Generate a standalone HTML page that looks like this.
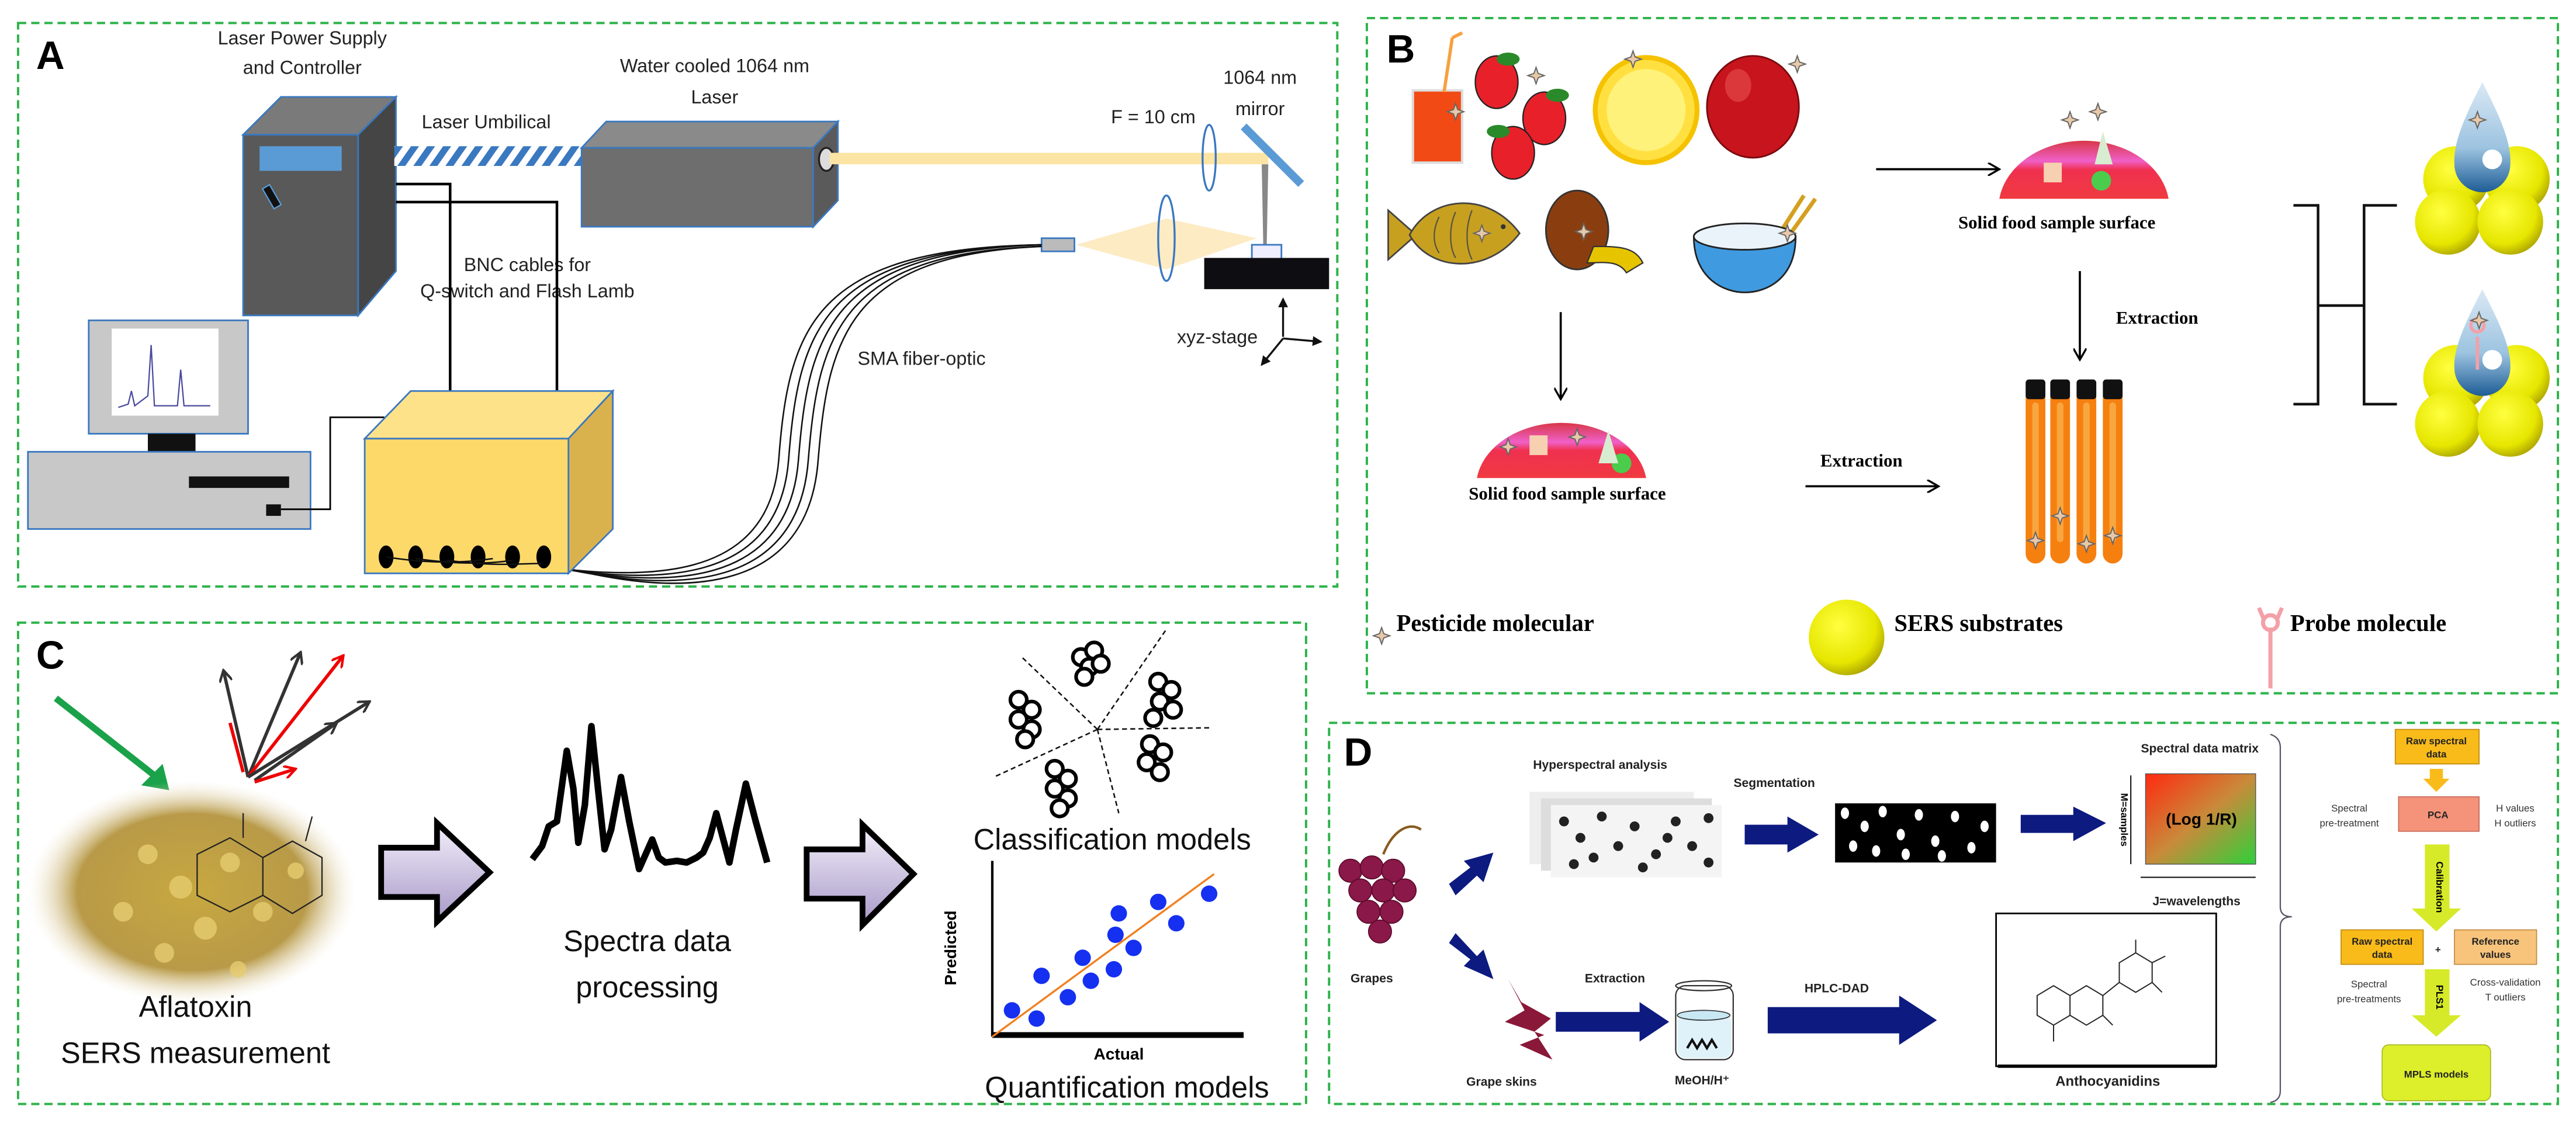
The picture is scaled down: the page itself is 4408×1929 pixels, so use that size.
<!DOCTYPE html>
<html><head><meta charset="utf-8"><style>
html,body{margin:0;padding:0;background:#fff;}
svg{display:block;}
.s{font-family:"Liberation Sans",sans-serif;}
.n{font-family:"Liberation Sans Narrow","Liberation Sans",sans-serif;}
.r{font-family:"Liberation Serif",serif;font-weight:bold;}
</style></head><body>
<svg width="4408" height="1929" viewBox="0 0 1568 686" preserveAspectRatio="none" xmlns="http://www.w3.org/2000/svg">
<defs>
<linearGradient id="lav" x1="0" y1="0" x2="0" y2="1"><stop offset="0" stop-color="#f4f0fa"/><stop offset="1" stop-color="#a798c8"/></linearGradient>
<linearGradient id="mat" x1="0" y1="0" x2="1" y2="1"><stop offset="0" stop-color="#ff2a10"/><stop offset="0.5" stop-color="#c98a3a"/><stop offset="1" stop-color="#2ed03a"/></linearGradient>
<radialGradient id="sph" cx="0.4" cy="0.35" r="0.7"><stop offset="0" stop-color="#ffff40"/><stop offset="0.7" stop-color="#e6e600"/><stop offset="1" stop-color="#a8a000"/></radialGradient>
<linearGradient id="drop" x1="0" y1="0" x2="0" y2="1"><stop offset="0" stop-color="#dbe9f5"/><stop offset="0.6" stop-color="#9cc3e0"/><stop offset="1" stop-color="#1d5d96"/></linearGradient>
<linearGradient id="dome" x1="0" y1="0" x2="0" y2="1"><stop offset="0" stop-color="#d83848"/><stop offset="0.35" stop-color="#f060c8"/><stop offset="0.5" stop-color="#f03050"/><stop offset="1" stop-color="#f03a40"/></linearGradient>
<radialGradient id="afl" cx="0.5" cy="0.5" r="0.5"><stop offset="0" stop-color="#c8a840"/><stop offset="0.7" stop-color="#b89a48"/><stop offset="1" stop-color="#f4ecd8" stop-opacity="0"/></radialGradient>
<pattern id="hatch" width="8" height="8" patternUnits="userSpaceOnUse" patternTransform="rotate(35)"><rect width="8" height="8" fill="#fff"/><rect width="4" height="8" fill="#3a78c0"/></pattern>
<marker id="ah" markerWidth="8" markerHeight="8" refX="7" refY="4" orient="auto" markerUnits="userSpaceOnUse"><path d="M0,0 L7,4 L0,8" fill="none" stroke="#000" stroke-width="1.2"/></marker>
<marker id="ag" markerWidth="8" markerHeight="8" refX="7" refY="4" orient="auto" markerUnits="userSpaceOnUse"><path d="M0,0 L7,4 L0,8" fill="none" stroke="#333" stroke-width="1.5"/></marker>
<marker id="ar" markerWidth="8" markerHeight="8" refX="7" refY="4" orient="auto" markerUnits="userSpaceOnUse"><path d="M0,0 L7,4 L0,8" fill="none" stroke="#e00" stroke-width="1.5"/></marker>
<marker id="ad" markerWidth="6" markerHeight="6" refX="5" refY="3" orient="auto" markerUnits="userSpaceOnUse"><path d="M0,0 L6,3 L0,6 Z" fill="#111"/></marker>
<g id="star"><path d="M0,-5 L1.3,-1.3 L5,0 L1.3,1.3 L0,5 L-1.3,1.3 L-5,0 L-1.3,-1.3 Z" fill="#e8c8a8" stroke="#666" stroke-width="0.7"/></g>
</defs>

<g fill="none" stroke="#2db34a" stroke-width="1.4" stroke-dasharray="5 3">
<rect x="11" y="14" width="803" height="343"/>
<rect x="832" y="11" width="725" height="411"/>
<rect x="11" y="379" width="784" height="293"/>
<rect x="809" y="440" width="748" height="232"/>
</g>

<!-- Panel A -->
<text x="22" y="42" class="s" font-size="24" font-weight="bold">A</text>
<g class="n" font-size="11.5" text-anchor="middle" fill="#222">
<text x="184" y="27">Laser Power Supply</text>
<text x="184" y="45">and Controller</text>
<text x="435" y="44">Water cooled 1064 nm</text>
<text x="435" y="63">Laser</text>
<text x="296" y="78">Laser Umbilical</text>
<text x="767" y="51">1064 nm</text>
<text x="767" y="70">mirror</text>
<text x="702" y="75">F = 10 cm</text>
<text x="321" y="165">BNC cables for</text>
<text x="321" y="181">Q-switch and Flash Lamb</text>
<text x="561" y="222">SMA fiber-optic</text>
<text x="741" y="209">xyz-stage</text>
<text x="64" y="306">Computer</text>
<text x="282" y="291" font-size="12.5">Spectrometer</text>
<text x="282" y="308" font-size="12.5">186-887 nm</text>
</g>
<polygon points="148,82 171,59 241,59 218,82" fill="#7a7a7a" stroke="#3a78c0" stroke-width="1"/>
<rect x="148" y="82" width="70" height="110" fill="#595959" stroke="#3a78c0" stroke-width="1"/>
<polygon points="218,82 241,59 241,165 218,192" fill="#454545" stroke="#3a78c0" stroke-width="1"/>
<rect x="158" y="89" width="50" height="15" fill="#5b9bd5"/>
<rect x="163" y="113" width="5" height="14" fill="#111" stroke="#5b9bd5" stroke-width="0.8" transform="rotate(-30 165 120)"/>
<rect x="240" y="89" width="114" height="12" fill="url(#hatch)"/>
<polygon points="354,90 369,74 510,74 495,90" fill="#8a8a8a" stroke="#3a78c0" stroke-width="1"/>
<rect x="354" y="90" width="141" height="48" fill="#6e6e6e" stroke="#3a78c0" stroke-width="1"/>
<polygon points="495,90 510,74 510,122 495,138" fill="#5a5a5a" stroke="#3a78c0" stroke-width="1"/>
<ellipse cx="503" cy="97" rx="4.5" ry="7" fill="#ddd" stroke="#222" stroke-width="1.2"/>
<rect x="505" y="93" width="267" height="7" fill="#fbe4a4"/>
<ellipse cx="736" cy="96" rx="4" ry="20" fill="none" stroke="#3a78c0" stroke-width="1.2"/>
<line x1="757" y1="77" x2="792" y2="112" stroke="#5b9bd5" stroke-width="5"/>
<polygon points="768,100 772,100 771,152 769,152" fill="#888"/>
<polygon points="655,149 710,133 765,145 710,164" fill="#fdebc4"/>
<ellipse cx="710" cy="145" rx="5" ry="26" fill="none" stroke="#3a78c0" stroke-width="1.2"/>
<rect x="634" y="145" width="20" height="8" fill="#bbb" stroke="#3a78c0" stroke-width="1"/>
<rect x="762" y="149" width="18" height="9" fill="#eef" stroke="#3a78c0" stroke-width="1"/>
<rect x="733" y="157" width="76" height="19" fill="#0d0d12"/>
<g stroke="#111" stroke-width="1.2"><line x1="781" y1="205" x2="781" y2="182" marker-end="url(#ad)"/><line x1="781" y1="206" x2="804" y2="208" marker-end="url(#ad)"/><line x1="781" y1="206" x2="768" y2="222" marker-end="url(#ad)"/></g>
<polyline points="241,112 274,112 274,238" fill="none" stroke="#000" stroke-width="1.6"/>
<polyline points="241,123 339,123 339,238" fill="none" stroke="#000" stroke-width="1.6"/>
<g fill="none" stroke="#111" stroke-width="0.9">
<path d="M300,340 C400,358 468,352 474,280 C480,200 495,151 634,149"/>
<path d="M312,341 C405,360 474,354 480,280 C486,202 500,152 634,149"/>
<path d="M322,342 C410,362 480,356 486,280 C492,204 505,153 634,149"/>
<path d="M330,343 C415,364 486,358 492,280 C498,206 510,154 634,150"/>
<path d="M338,344 C420,366 492,360 498,280 C504,208 515,155 634,150"/>
</g>
<rect x="54" y="195" width="97" height="69" fill="#c8c8c8" stroke="#3a78c0" stroke-width="1"/>
<rect x="68" y="200" width="65" height="53" fill="#fff"/>
<polyline points="72,248 78,246 80,238 82,247 90,241 92,210 94,247 108,247 110,225 112,247 128,247" fill="none" stroke="#4a4aa0" stroke-width="0.8"/>
<rect x="90" y="264" width="29" height="11" fill="#111"/>
<rect x="17" y="275" width="172" height="47" fill="#c8c8c8" stroke="#3a78c0" stroke-width="1"/>
<rect x="115" y="290" width="61" height="7" fill="#111"/>
<rect x="162" y="307" width="9" height="7" fill="#111"/>
<polyline points="171,310 201,310 201,254 234,254" fill="none" stroke="#000" stroke-width="1"/>
<polygon points="222,267 250,238 373,238 346,267" fill="#fde28a" stroke="#3a78c0" stroke-width="1"/>
<polygon points="346,267 373,238 373,322 346,349" fill="#d9b24e" stroke="#3a78c0" stroke-width="1"/>
<rect x="222" y="267" width="124" height="82" fill="#fdd96a" stroke="#3a78c0" stroke-width="1"/>
<g fill="#000"><ellipse cx="235" cy="339" rx="4.5" ry="7"/><ellipse cx="253" cy="339" rx="4.5" ry="7"/><ellipse cx="272" cy="339" rx="4.5" ry="7"/><ellipse cx="291" cy="339" rx="4.5" ry="7"/><ellipse cx="312" cy="339" rx="4.5" ry="7"/><ellipse cx="331" cy="339" rx="4.5" ry="7"/></g>
<g fill="none" stroke="#111" stroke-width="0.9"><path d="M235,339 C260,343 280,343 300,340"/><path d="M253,340 C280,344 300,343 312,341"/><path d="M272,341 C300,345 315,343 330,343"/></g>

<!-- Panel B -->
<text x="844" y="38" class="s" font-size="24" font-weight="bold">B</text>
<rect x="860" y="55" width="30" height="44" fill="#f24a14" stroke="#ddd" stroke-width="1.5"/>
<line x1="879" y1="56" x2="884" y2="23" stroke="#f7a040" stroke-width="2"/>
<line x1="884" y1="23" x2="890" y2="20" stroke="#f7a040" stroke-width="2"/>
<g fill="#e8202a" stroke="#222" stroke-width="0.8">
<ellipse cx="911" cy="50" rx="13" ry="16"/><ellipse cx="940" cy="72" rx="13" ry="16"/><ellipse cx="921" cy="93" rx="13" ry="16"/></g>
<g fill="#2a8a2a"><ellipse cx="918" cy="36" rx="7" ry="4"/><ellipse cx="948" cy="58" rx="7" ry="4"/><ellipse cx="912" cy="80" rx="7" ry="4"/></g>
<ellipse cx="1002" cy="67" rx="31" ry="32" fill="#ffe040" stroke="#f5c200" stroke-width="3"/>
<ellipse cx="1002" cy="67" rx="24" ry="25" fill="#fff27a"/>
<ellipse cx="1067" cy="65" rx="28" ry="31" fill="#c8141c" stroke="#7a0a10" stroke-width="1"/>
<ellipse cx="1058" cy="52" rx="8" ry="10" fill="#e85050" opacity="0.6"/>
<!-- fish -->
<path d="M845,128 L862,143 L845,158 Z" fill="#c8a020" stroke="#444" stroke-width="1"/>
<path d="M858,143 C870,120 905,115 925,142 C905,168 870,165 858,143 Z" fill="#c8a020" stroke="#444" stroke-width="1"/>
<circle cx="915" cy="138" r="1.5" fill="#333"/>
<g fill="none" stroke="#554" stroke-width="0.8"><path d="M876,132 C872,140 872,148 876,154"/><path d="M886,129 C882,138 882,150 886,157"/><path d="M896,128 C892,138 892,150 896,158"/></g>
<ellipse cx="960" cy="140" rx="19" ry="24" fill="#8a3e10" stroke="#333" stroke-width="1"/>
<path d="M970,150 C985,150 995,150 1000,160 L990,166 C985,158 975,160 966,160 Z" fill="#e6c400" stroke="#333" stroke-width="0.8"/>
<line x1="1075" y1="155" x2="1098" y2="119" stroke="#d4a020" stroke-width="2.5"/>
<line x1="1080" y1="156" x2="1105" y2="121" stroke="#d4a020" stroke-width="2.5"/>
<path d="M1031,144 C1031,170 1050,178 1062,178 C1075,178 1093,170 1093,144 Z" fill="#3f9ae0" stroke="#222" stroke-width="1"/>
<ellipse cx="1062" cy="144" rx="31" ry="8" fill="#eaf2fa" stroke="#222" stroke-width="1"/>
<g><use href="#star" x="886" y="68"/><use href="#star" x="935" y="46"/><use href="#star" x="994" y="36"/><use href="#star" x="1094" y="39"/><use href="#star" x="902" y="142"/><use href="#star" x="964" y="141"/><use href="#star" x="1088" y="142"/></g>
<g stroke="#000" stroke-width="1.3" fill="none">
<line x1="1142" y1="103" x2="1217" y2="103" marker-end="url(#ah)"/>
<line x1="1266" y1="165" x2="1266" y2="219" marker-end="url(#ah)"/>
<line x1="950" y1="190" x2="950" y2="243" marker-end="url(#ah)"/>
<line x1="1099" y1="296" x2="1180" y2="296" marker-end="url(#ah)"/>
</g>
<path d="M1217,121 A52,41 0 0 1 1320,121 Z" fill="url(#dome)"/>
<rect x="1244" y="99" width="11" height="12" fill="#f6d0b0"/>
<circle cx="1279" cy="110" r="6" fill="#4ccc4c"/>
<polygon points="1275,100 1280,80 1286,100" fill="#d8ecd0"/>
<use href="#star" x="1260" y="73"/><use href="#star" x="1277" y="68"/>
<path d="M899,291 A52,39 0 0 1 1002,291 Z" fill="url(#dome)"/>
<rect x="931" y="265" width="11" height="12" fill="#f6d0b0"/>
<circle cx="987" cy="282" r="6" fill="#4ccc4c"/>
<polygon points="973,282 979,262 985,282" fill="#d8ecd0"/>
<use href="#star" x="918" y="272"/><use href="#star" x="960" y="266"/>
<g class="r" font-size="11" text-anchor="middle"><text x="1252" y="139">Solid food sample surface</text><text x="954" y="304">Solid food sample surface</text></g>
<g class="r" font-size="11"><text x="1288" y="197">Extraction</text><text x="1108" y="284">Extraction</text></g>
<g><rect x="1233" y="236" width="12" height="107" rx="6" fill="#f58010"/><rect x="1237" y="245" width="4" height="85" rx="2" fill="#f8a640"/><rect x="1233" y="231" width="12" height="12" rx="2" fill="#111"/>
<rect x="1248" y="236" width="12" height="107" rx="6" fill="#f58010"/><rect x="1252" y="245" width="4" height="85" rx="2" fill="#f8a640"/><rect x="1248" y="231" width="12" height="12" rx="2" fill="#111"/>
<rect x="1264" y="236" width="12" height="107" rx="6" fill="#f58010"/><rect x="1268" y="245" width="4" height="85" rx="2" fill="#f8a640"/><rect x="1264" y="231" width="12" height="12" rx="2" fill="#111"/>
<rect x="1280" y="236" width="12" height="107" rx="6" fill="#f58010"/><rect x="1284" y="245" width="4" height="85" rx="2" fill="#f8a640"/><rect x="1280" y="231" width="12" height="12" rx="2" fill="#111"/></g>
<use href="#star" x="1239" y="329"/><use href="#star" x="1254" y="314"/><use href="#star" x="1270" y="331"/><use href="#star" x="1286" y="326"/>
<!-- H bracket -->
<path d="M1396,125 L1411,125 L1411,246 L1396,246 M1411,186 L1439,186 M1459,125 L1439,125 L1439,246 L1459,246" fill="none" stroke="#111" stroke-width="1.6"/>
<g><circle cx="1495" cy="109" r="20" fill="url(#sph)"/><circle cx="1532" cy="109" r="20" fill="url(#sph)"/><circle cx="1490" cy="135" r="20" fill="url(#sph)"/><circle cx="1528" cy="135" r="20" fill="url(#sph)"/>
<path d="M1511,50 C1503,66 1493,85 1494,100 A17,17 0 0 0 1528,100 C1529,85 1519,66 1511,50 Z" fill="url(#drop)"/>
<circle cx="1517" cy="97" r="6" fill="#fff"/><use href="#star" x="1508" y="73"/>
<circle cx="1495" cy="230" r="20" fill="url(#sph)"/><circle cx="1532" cy="230" r="20" fill="url(#sph)"/><circle cx="1490" cy="258" r="20" fill="url(#sph)"/><circle cx="1528" cy="258" r="20" fill="url(#sph)"/>
<path d="M1511,176 C1503,192 1493,211 1494,224 A17,17 0 0 0 1528,224 C1529,211 1519,192 1511,176 Z" fill="url(#drop)"/>
<circle cx="1517" cy="219" r="6" fill="#fff"/>
<path d="M1508,225 L1508,205 M1504,198 A4,4 0 1 0 1512,198 A4,4 0 1 0 1504,198" fill="none" stroke="#f4a0a8" stroke-width="2"/>
<use href="#star" x="1509" y="195"/></g>
<use href="#star" x="841" y="387"/>
<text x="850" y="384" class="r" font-size="14.5" font-weight="normal">Pesticide molecular</text>
<circle cx="1124" cy="388" r="23" fill="url(#sph)"/>
<text x="1153" y="384" class="r" font-size="14.5" font-weight="normal">SERS substrates</text>
<path d="M1382,419 L1382,382 M1375,370 L1378,377 M1389,370 L1386,377" fill="none" stroke="#f4a0a8" stroke-width="2.5"/>
<circle cx="1382" cy="379" r="4.5" fill="none" stroke="#f4a0a8" stroke-width="2.5"/>
<text x="1394" y="384" class="r" font-size="14.5" font-weight="normal">Probe molecule</text>

<!-- Panel C -->
<text x="22" y="407" class="s" font-size="24" font-weight="bold">C</text>
<line x1="34" y1="425" x2="94" y2="472" stroke="#1aa24a" stroke-width="4"/>
<polygon points="86,478 103,481 99,465" fill="#1aa24a"/>
<ellipse cx="117" cy="543" rx="100" ry="68" fill="url(#afl)"/>
<g fill="#e6cc70" opacity="0.8"><circle cx="90" cy="520" r="6"/><circle cx="110" cy="540" r="7"/><circle cx="140" cy="525" r="6"/><circle cx="75" cy="555" r="6"/><circle cx="125" cy="565" r="7"/><circle cx="160" cy="555" r="6"/><circle cx="100" cy="580" r="6"/><circle cx="145" cy="590" r="5"/><circle cx="180" cy="530" r="5"/></g>
<path d="M120,520 L140,510 L160,522 L160,545 L140,555 L120,545 Z M160,522 L178,512 L196,522 L196,545 L178,556 L160,545 M148,510 L148,495 M186,512 L190,497" fill="none" stroke="#222" stroke-width="0.8"/>
<g stroke-width="2" fill="none">
<line x1="151" y1="473" x2="136" y2="408" stroke="#333" marker-end="url(#ag)"/>
<line x1="151" y1="473" x2="183" y2="397" stroke="#333" marker-end="url(#ag)"/>
<line x1="151" y1="473" x2="209" y2="399" stroke="#e00" marker-end="url(#ar)"/>
<line x1="151" y1="473" x2="225" y2="427" stroke="#333" marker-end="url(#ag)"/>
<line x1="155" y1="475" x2="205" y2="440" stroke="#333" marker-end="url(#ag)"/>
<line x1="155" y1="476" x2="180" y2="468" stroke="#e00" marker-end="url(#ar)"/>
<line x1="148" y1="470" x2="140" y2="440" stroke="#e00"/>
</g>
<g class="n" font-size="18" text-anchor="middle" fill="#111"><text x="119" y="619">Aflatoxin</text><text x="119" y="647">SERS measurement</text>
<text x="394" y="579">Spectra data</text><text x="394" y="607">processing</text>
<text x="677" y="517">Classification models</text><text x="686" y="668">Quantification models</text></g>
<polygon points="232,516 266,516 266,501 298,531 266,561 266,546 232,546" fill="url(#lav)" stroke="#000" stroke-width="3.5"/>
<polygon points="491,517 525,517 525,502 556,532 525,563 525,547 491,547" fill="url(#lav)" stroke="#000" stroke-width="3.5"/>
<polyline points="324,523 330,515 334,503 339,500 345,457 349,480 352,513 356,490 360,442 364,480 368,517 372,505 378,473 383,500 389,529 393,520 397,511 401,522 405,525 412,524 418,525 424,522 428,519 432,510 436,495 440,510 444,525 448,505 454,477 460,500 467,525" fill="none" stroke="#000" stroke-width="4" stroke-linejoin="round"/>
<g fill="none" stroke="#111" stroke-width="0.9" stroke-dasharray="3 2"><line x1="668" y1="444" x2="710" y2="383"/><line x1="668" y1="444" x2="622" y2="400"/><line x1="668" y1="444" x2="737" y2="443"/><line x1="668" y1="444" x2="605" y2="473"/><line x1="668" y1="444" x2="681" y2="495"/></g>
<g fill="#fff" stroke="#000" stroke-width="2.2">
<circle cx="658" cy="400" r="5"/><circle cx="666" cy="396" r="5"/><circle cx="663" cy="406" r="5"/><circle cx="670" cy="404" r="5"/><circle cx="660" cy="412" r="5"/>
<circle cx="705" cy="415" r="5"/><circle cx="713" cy="420" r="5"/><circle cx="706" cy="427" r="5"/><circle cx="714" cy="432" r="5"/><circle cx="702" cy="437" r="5"/>
<circle cx="620" cy="426" r="5"/><circle cx="628" cy="432" r="5"/><circle cx="620" cy="438" r="5"/><circle cx="628" cy="444" r="5"/><circle cx="624" cy="450" r="5"/>
<circle cx="700" cy="453" r="5"/><circle cx="708" cy="458" r="5"/><circle cx="698" cy="464" r="5"/><circle cx="706" cy="470" r="5"/>
<circle cx="642" cy="468" r="5"/><circle cx="650" cy="474" r="5"/><circle cx="642" cy="480" r="5"/><circle cx="650" cy="486" r="5"/><circle cx="645" cy="492" r="5"/></g>
<line x1="604" y1="524" x2="604" y2="631" stroke="#000" stroke-width="1.5"/>
<line x1="604" y1="630" x2="757" y2="630" stroke="#000" stroke-width="3.5"/>
<line x1="604" y1="631" x2="739" y2="532" stroke="#f08020" stroke-width="1.2"/>
<g fill="#1530f0"><circle cx="616" cy="615" r="5"/><circle cx="631" cy="620" r="5"/><circle cx="634" cy="594" r="5"/><circle cx="650" cy="607" r="5"/><circle cx="659" cy="583" r="5"/><circle cx="664" cy="597" r="5"/><circle cx="678" cy="590" r="5"/><circle cx="679" cy="569" r="5"/><circle cx="681" cy="556" r="5"/><circle cx="690" cy="577" r="5"/><circle cx="705" cy="549" r="5"/><circle cx="716" cy="562" r="5"/><circle cx="736" cy="544" r="5"/></g>
<text x="582" y="577" class="n" font-size="10" font-weight="bold" text-anchor="middle" transform="rotate(-90 582 577)">Predicted</text>
<text x="681" y="645" class="n" font-size="10" font-weight="bold" text-anchor="middle">Actual</text>

<!-- Panel D -->
<text x="818" y="466" class="s" font-size="24" font-weight="bold">D</text>
<path d="M842,520 C848,505 858,500 865,505" fill="none" stroke="#8a5a20" stroke-width="1.5"/>
<g fill="#8a1848" stroke="#5a0a2a" stroke-width="0.6"><circle cx="822" cy="530" r="7"/><circle cx="835" cy="528" r="7"/><circle cx="848" cy="530" r="7"/><circle cx="828" cy="542" r="7"/><circle cx="842" cy="542" r="7"/><circle cx="855" cy="542" r="7"/><circle cx="833" cy="555" r="7"/><circle cx="847" cy="555" r="7"/><circle cx="840" cy="567" r="7"/></g>
<g class="n" font-size="7.5" font-weight="bold" text-anchor="middle" fill="#222">
<text x="835" y="598">Grapes</text><text x="974" y="468">Hyperspectral analysis</text><text x="1080" y="479">Segmentation</text>
<text x="1339" y="458">Spectral data matrix</text><text x="1337" y="551">J=wavelengths</text>
<text x="914" y="661">Grape skins</text><text x="983" y="598">Extraction</text><text x="1036" y="660">MeOH/H⁺</text>
<text x="1118" y="604">HPLC-DAD</text><text x="1283" y="661" font-size="8.5">Anthocyanidins</text></g>
<g fill="#0d1a80">
<polygon points="882,538 895,528 891,524 909,519 903,537 899,533 886,545"/>
<polygon points="882,574 895,584 891,588 909,596 903,578 899,582 886,568"/>
<polygon points="1062,502 1088,502 1088,497 1107,508 1088,519 1088,514 1062,514"/>
<polygon points="1230,496 1262,496 1262,491 1282,501 1262,512 1262,507 1230,507"/>
<polygon points="947,616 998,616 998,610 1016,622 998,634 998,628 947,628"/>
<polygon points="1076,613 1156,613 1156,606 1179,621 1156,636 1156,629 1076,629"/>
</g>
<rect x="931" y="482" width="100" height="44" fill="#eee"/>
<rect x="938" y="486" width="104" height="44" fill="#ddd"/>
<rect x="944" y="490" width="104" height="44" fill="#f4f4f4"/>
<g fill="#222"><circle cx="952" cy="500" r="3"/><circle cx="962" cy="510" r="3"/><circle cx="975" cy="497" r="3"/><circle cx="985" cy="515" r="3"/><circle cx="995" cy="503" r="3"/><circle cx="1008" cy="520" r="3"/><circle cx="1020" cy="500" r="3"/><circle cx="1030" cy="515" r="3"/><circle cx="1040" cy="525" r="3"/><circle cx="958" cy="526" r="3"/><circle cx="970" cy="522" r="3"/><circle cx="1000" cy="528" r="3"/><circle cx="1015" cy="510" r="3"/><circle cx="1040" cy="498" r="3"/></g>
<rect x="1117" y="489" width="98" height="36" fill="#000"/>
<g fill="#fff"><ellipse cx="1123" cy="495" rx="2.5" ry="3.5"/><ellipse cx="1135" cy="503" rx="2.5" ry="3.5"/><ellipse cx="1146" cy="494" rx="2.5" ry="3.5"/><ellipse cx="1128" cy="515" rx="2.5" ry="3.5"/><ellipse cx="1157" cy="508" rx="2.5" ry="3.5"/><ellipse cx="1168" cy="496" rx="2.5" ry="3.5"/><ellipse cx="1142" cy="518" rx="2.5" ry="3.5"/><ellipse cx="1178" cy="512" rx="2.5" ry="3.5"/><ellipse cx="1190" cy="497" rx="2.5" ry="3.5"/><ellipse cx="1200" cy="516" rx="2.5" ry="3.5"/><ellipse cx="1160" cy="520" rx="2.5" ry="3.5"/><ellipse cx="1208" cy="503" rx="2.5" ry="3.5"/><ellipse cx="1182" cy="521" rx="2.5" ry="3.5"/></g>
<rect x="1306" y="471" width="67" height="55" fill="url(#mat)" stroke="#555" stroke-width="0.5"/>
<text x="1340" y="502" class="n" font-size="10" font-weight="bold" text-anchor="middle">(Log 1/R)</text>
<line x1="1297" y1="472" x2="1297" y2="526" stroke="#222" stroke-width="0.8"/>
<text x="1291" y="499" class="n" font-size="6" font-weight="bold" text-anchor="middle" transform="rotate(90 1291 499)">M=samples</text>
<line x1="1303" y1="534" x2="1373" y2="534" stroke="#222" stroke-width="0.8"/>
<path d="M1382,447 Q1388,449 1388,455 L1388,552 Q1388,558 1395,558 Q1388,558 1388,564 L1388,664 Q1388,670 1382,671" fill="none" stroke="#556" stroke-width="0.8"/>
<path d="M918,596 L928,615 L916,622 L940,630 L925,636 L945,645 L934,628 L944,620 L926,610 Z" fill="#8a1838"/>
<rect x="1020" y="600" width="35" height="45" rx="6" fill="#fff" stroke="#333" stroke-width="0.8"/>
<ellipse cx="1037" cy="600" rx="17" ry="3" fill="none" stroke="#333" stroke-width="0.8"/>
<rect x="1021" y="618" width="33" height="26" rx="5" fill="#dff2fa"/>
<ellipse cx="1037" cy="618" rx="16" ry="3" fill="#c8e8f4" stroke="#333" stroke-width="0.6"/>
<path d="M1027,638 L1030,633 L1033,638 L1036,633 L1039,638 L1042,633 L1045,638" stroke="#111" stroke-width="1.5" fill="none"/>
<rect x="1215" y="556" width="134" height="93" fill="#fff" stroke="#000" stroke-width="1"/>
<line x1="1216" y1="649" x2="1349" y2="649" stroke="#000" stroke-width="2"/>
<path d="M1240,606 L1250,600 L1260,606 L1260,618 L1250,624 L1240,618 Z M1260,606 L1270,600 L1280,606 L1280,618 L1270,624 L1260,618 M1280,606 L1290,598 L1290,586 L1300,580 L1310,586 L1310,598 L1300,604 L1290,598 M1250,624 L1250,634 M1280,618 L1286,624 M1300,580 L1300,572 M1310,586 L1318,582 M1310,598 L1316,604" fill="none" stroke="#222" stroke-width="0.7"/>
<rect x="1458" y="444" width="51" height="21" fill="#f9bb1a" stroke="#c08a10" stroke-width="0.6"/>
<polygon points="1479,468 1487,468 1487,474 1491,474 1483,482 1475,474 1479,474" fill="#f9bb1a"/>
<rect x="1460" y="485" width="49" height="21" fill="#f4937a" stroke="#c86a5a" stroke-width="0.6"/>
<polygon points="1476,514 1491,514 1491,553 1498,553 1483,567 1468,553 1476,553" fill="#d6ea2a"/>
<rect x="1425" y="566" width="50" height="21" fill="#f9bb1a" stroke="#c08a10" stroke-width="0.6"/>
<rect x="1494" y="566" width="50" height="21" fill="#f8c47c" stroke="#c08a40" stroke-width="0.6"/>
<polygon points="1476,590 1491,590 1491,618 1498,618 1483,631 1468,618 1476,618" fill="#d6ea2a"/>
<rect x="1450" y="636" width="66" height="34" rx="4" fill="#dcef2a" stroke="#a8b820" stroke-width="0.6"/>
<g class="n" font-size="6" font-weight="bold" text-anchor="middle" fill="#222">
<text x="1483" y="453">Raw spectral</text><text x="1483" y="461">data</text>
<text x="1484" y="498">PCA</text>
<text x="1450" y="575">Raw spectral</text><text x="1450" y="583">data</text>
<text x="1519" y="575">Reference</text><text x="1519" y="583">values</text>
<text x="1484" y="580">+</text>
<text x="1483" y="656">MPLS models</text></g>
<g class="n" font-size="6" text-anchor="middle" fill="#333">
<text x="1430" y="494">Spectral</text><text x="1430" y="503">pre-treatment</text>
<text x="1531" y="494">H values</text><text x="1531" y="503">H outliers</text>
<text x="1442" y="601">Spectral</text><text x="1442" y="610">pre-treatments</text>
<text x="1525" y="600">Cross-validation</text><text x="1525" y="609">T outliers</text></g>
<text x="1483" y="540" class="n" font-size="6" font-weight="bold" text-anchor="middle" transform="rotate(90 1483 540)">Calibration</text>
<text x="1483" y="607" class="n" font-size="6" font-weight="bold" text-anchor="middle" transform="rotate(90 1483 607)">PLS1</text>
</svg>
</body></html>
